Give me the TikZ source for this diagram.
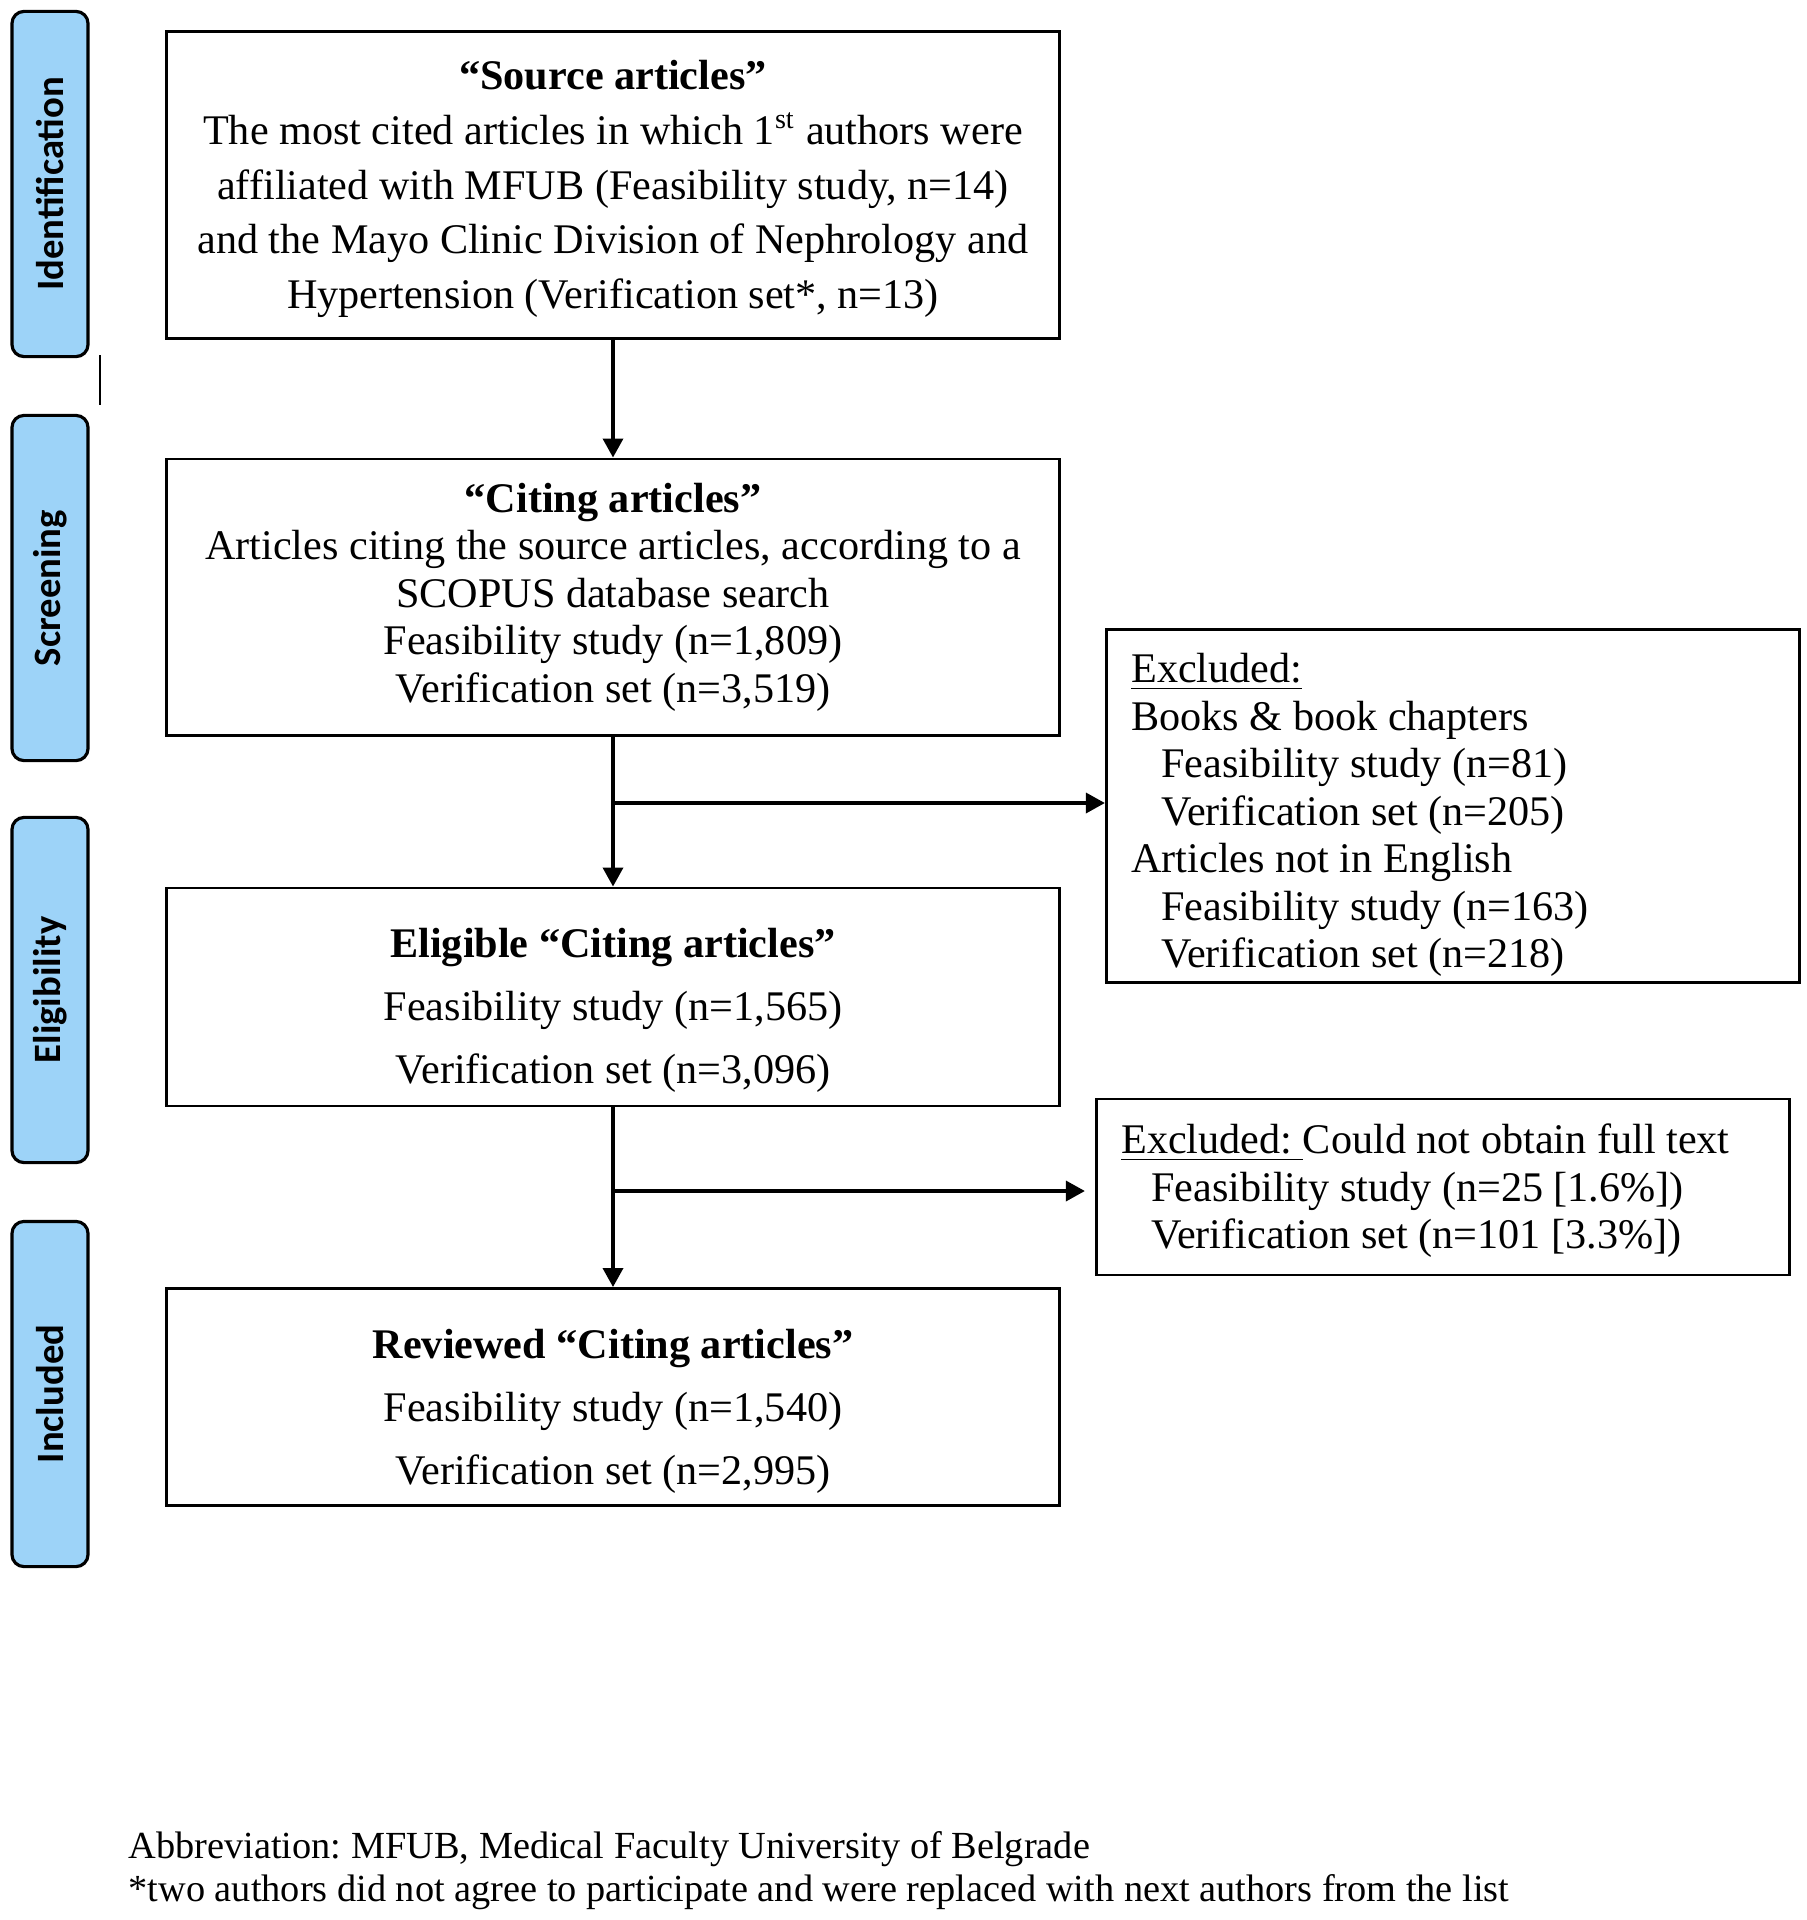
\documentclass[tikz,border=0pt]{standalone}
\usepackage{fontspec}
\setmainfont{Liberation Serif}
\newfontfamily\sidefont{Carlito}
\usetikzlibrary{arrows.meta}
\definecolor{sideblue}{RGB}{157,211,248}
\frenchspacing

\begin{document}
\begin{tikzpicture}[x=0.01cm,y=-0.01cm]
\tikzstyle{every node}=[inner sep=0pt]
\tikzstyle{stage}=[draw,rounded corners=0.12cm,fill=sideblue,line width=0.9pt,rotate=90,minimum width=3.45cm,minimum height=0.76cm,font=\sidefont\bfseries\fontsize{11}{13}\selectfont]
\tikzstyle{frame}=[draw,line width=0.8pt]
\tikzstyle{flowtext}=[align=center,font=\fontsize{12}{13.5}\selectfont]
\tikzstyle{extext}=[align=flush left,text width=6.43cm,font=\fontsize{12}{13.5}\selectfont]
\tikzstyle{arr}=[line width=1pt,-{Triangle[length=0.19cm,width=0.2cm]}]
\useasboundingbox (0,0) rectangle (1807,1920);
\node[stage](st1) at (50,184) {Identification};
\node[stage](st2) at (50,588) {Screening};
\node[stage](st3) at (50,990) {Eligibility};
\node[stage](st4) at (50,1394) {Included};
\draw[line width=0.8pt] (100,355) -- (100,405);
\node[frame,minimum width=8.93cm,minimum height=3.07cm](src) at (613,185) {};
\node[flowtext,font=\fontsize{12}{15.6}\selectfont](srct) at (613,189) {\textbf{“Source articles”}\\The most cited articles in which 1\textsuperscript{st} authors were\\affiliated with MFUB (Feasibility study, n=14)\\and the Mayo Clinic Division of Nephrology and\\Hypertension (Verification set*, n=13)};
\node[frame,minimum width=8.92cm,minimum height=2.76cm](cite) at (613,597) {};
\node[flowtext](citet) at (613,597) {\textbf{“Citing articles”}\\Articles citing the source articles, according to a\\SCOPUS database search\\Feasibility study (n=1,809)\\Verification set (n=3,519)};
\node[frame,minimum width=8.93cm,minimum height=2.18cm](elig) at (613,997) {};
\node[flowtext,font=\fontsize{12}{17.9}\selectfont](eligt) at (613,1010) {\textbf{Eligible “Citing articles”}\\Feasibility study (n=1,565)\\Verification set (n=3,096)};
\node[frame,minimum width=8.92cm,minimum height=2.17cm](rev) at (613,1397) {};
\node[flowtext,font=\fontsize{12}{17.9}\selectfont](revt) at (613,1411) {\textbf{Reviewed “Citing articles”}\\Feasibility study (n=1,540)\\Verification set (n=2,995)};
\node[frame,minimum width=6.93cm,minimum height=3.53cm](ex1) at (1453,806) {};
\node[extext](ex1t) at (1453,815) {\underline{Excluded:}\\Books \& book chapters\\\hspace*{0.3cm}Feasibility study (n=81)\\\hspace*{0.3cm}Verification set (n=205)\\Articles not in English\\\hspace*{0.3cm}Feasibility study (n=163)\\\hspace*{0.3cm}Verification set (n=218)};
\node[frame,minimum width=6.93cm,minimum height=1.76cm](ex2) at (1443,1187) {};
\node[extext](ex2t) at (1443,1191) {\underline{Excluded:\ }Could not obtain full text\\\hspace*{0.3cm}Feasibility study (n=25 [1.6\%])\\\hspace*{0.3cm}Verification set (n=101 [3.3\%])};
\coordinate (j1) at (613,803);
\coordinate (j2) at (613,1191);
\draw[arr] (src) -- (cite);
\draw[arr] (cite) -- (elig);
\draw[arr] (j1) -- (j1 -| ex1.west);
\draw[arr] (elig) -- (rev);
\draw[arr,shorten >=0.1cm] (j2) -- (j2 -| ex2.west);
\node[anchor=west,font=\fontsize{10.9}{13}\selectfont](fn1) at (128,1849) {Abbreviation: MFUB, Medical Faculty University of Belgrade};
\node[anchor=west,font=\fontsize{10.9}{13}\selectfont](fn2) at (128,1892) {*two authors did not agree to participate and were replaced with next authors from the list};
\end{tikzpicture}
\end{document}
